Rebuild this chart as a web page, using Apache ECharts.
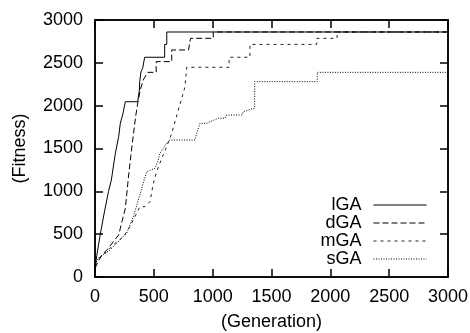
<!DOCTYPE html>
<html>
<head>
<meta charset="utf-8">
<script src="https://cdn.jsdelivr.net/npm/echarts@6/dist/echarts.min.js"></script>
<style>html,body{margin:0;padding:0;background:#fff}#c{width:470px;height:333px}</style>
</head>
<body>
<div id="c"></div>
<script>
const seriesNames = ['lGA', 'dGA', 'mGA', 'sGA'];
const xTicks = [0, 500, 1000, 1500, 2000, 2500, 3000];
const yTicks = [0, 500, 1000, 1500, 2000, 2500, 3000];

const lGA_gen = [0, 15, 45, 80, 115, 139, 173, 201, 215, 235, 258, 363, 377, 380, 391, 405, 422, 592, 592, 610, 610, 3000];
const lGA_fit = [90, 250, 500, 760, 1000, 1132, 1444, 1638, 1794, 1891, 2046, 2046, 2183, 2280, 2396, 2436, 2565, 2565, 2715, 2715, 2860, 2860];

const dGA_gen = [0, 30, 60, 110, 160, 201, 230, 258, 286, 305, 325, 345, 365, 385, 410, 448, 520, 520, 652, 652, 795, 812, 1005, 1005, 3000];
const dGA_fit = [100, 190, 257, 330, 420, 490, 650, 802, 1190, 1420, 1650, 1870, 2046, 2183, 2300, 2389, 2389, 2514, 2514, 2650, 2650, 2786, 2786, 2860, 2860];

const mGA_gen = [0, 30, 71, 170, 241, 297, 382, 425, 467, 496, 524, 567, 609, 652, 708, 765, 779, 1140, 1140, 1317, 1317, 1884, 1884, 2057, 2057, 3000];
const mGA_fit = [150, 220, 257, 393, 470, 587, 821, 821, 879, 1094, 1229, 1385, 1521, 1677, 1949, 2221, 2448, 2448, 2565, 2565, 2715, 2715, 2786, 2786, 2860, 2860];

const sGA_gen = [0, 15, 42, 127, 212, 269, 326, 410, 439, 510, 538, 552, 609, 637, 850, 864, 892, 947, 960, 1048, 1105, 1119, 1247, 1261, 1303, 1357, 1357, 1889, 1889, 3000];
const sGA_fit = [120, 190, 237, 315, 432, 510, 704, 1094, 1229, 1268, 1366, 1444, 1561, 1599, 1599, 1677, 1794, 1794, 1813, 1853, 1853, 1891, 1891, 1930, 1949, 1969, 2280, 2280, 2389, 2389];

function zip(a, b) { return a.map((v, i) => [v, b[i]]); }

const FONT = 'Liberation Sans';
const FS = 18;
const chart = echarts.init(document.getElementById('c'), null, {renderer: 'canvas'});

function axisBase() {
  return {
    type: 'value', min: 0, max: 3000, interval: 500, show: true,
    axisLine: {show: true, onZero: false, lineStyle: {color: '#000', width: 1.5}},
    axisTick: {show: true, inside: false, length: -8, lineStyle: {color: '#000', width: 1.5}},
    splitLine: {show: false}
  };
}

const styles = [
  {type: 'solid', color: '#000'},
  {type: [6, 3], color: '#000'},
  {type: [3, 4], color: '#222'},
  {type: [1, 1.5], color: '#000'}
];
const datas = [zip(lGA_gen, lGA_fit), zip(dGA_gen, dGA_fit), zip(mGA_gen, mGA_fit), zip(sGA_gen, sGA_fit)];

const series = seriesNames.map((n, i) => ({
  name: n, type: 'line', xAxisIndex: 0, yAxisIndex: 0,
  data: datas[i], symbol: 'none', showSymbol: false, smooth: false,
  lineStyle: {width: 1, type: styles[i].type, color: styles[i].color},
  itemStyle: {color: styles[i].color},
  z: 10 - i
}));
// empty helper series so the mirrored top/right axes are laid out
series.push({type: 'line', xAxisIndex: 1, yAxisIndex: 1, data: [], symbol: 'none'});

chart.setOption({
  animation: false,
  backgroundColor: '#fff',
  textStyle: {fontFamily: FONT},
  grid: {left: 95, right: 22, top: 20, bottom: 56, containLabel: false, outerBoundsMode: 'none',
         show: true, borderColor: '#000', borderWidth: 1.5, backgroundColor: 'transparent'},
  legend: {
    data: seriesNames, orient: 'vertical', right: 38, top: 191, align: 'right',
    itemWidth: 53, itemHeight: 12, itemGap: 0,
    itemStyle: {opacity: 0, borderWidth: 0},
    lineStyle: {width: 1},
    textStyle: {fontSize: FS, color: '#000', fontFamily: FONT, padding: [0, 7, 0, 0]}
  },
  xAxis: [
    Object.assign(axisBase(), {
      position: 'bottom', name: '(Generation)', nameLocation: 'middle', nameGap: 36,
      nameTextStyle: {fontSize: FS, color: '#000', fontFamily: FONT},
      axisLabel: {fontSize: FS, color: '#000', margin: 11, fontFamily: FONT, formatter: v => String(v)}
    }),
    Object.assign(axisBase(), {position: 'top', axisLabel: {show: false}})
  ],
  yAxis: [
    Object.assign(axisBase(), {
      position: 'left', name: '(Fitness)', nameLocation: 'middle', nameGap: 66,
      nameTextStyle: {fontSize: FS, color: '#000', fontFamily: FONT},
      axisLabel: {fontSize: FS, color: '#000', margin: 12, fontFamily: FONT, formatter: v => String(v)}
    }),
    Object.assign(axisBase(), {position: 'right', axisLabel: {show: false}})
  ],
  series: series
});
</script>
</body>
</html>
